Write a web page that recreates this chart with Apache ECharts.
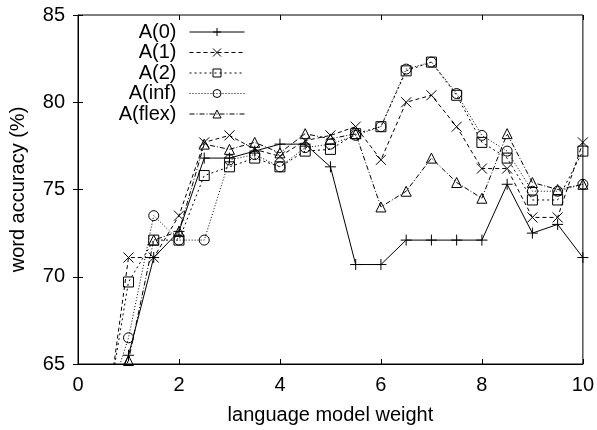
<!DOCTYPE html>
<html>
<head>
<meta charset="utf-8">
<script src="https://cdn.jsdelivr.net/npm/echarts@6/dist/echarts.min.js"></script>
<style>
  html, body { margin: 0; padding: 0; background: #fff; }
  #chart { width: 597px; height: 430px; }
</style>
</head>
<body>
<div id="chart"></div>
<script>
// 语言模型权重
const weights = [0.5, 1, 1.5, 2, 2.5, 3, 3.5, 4, 4.5, 5, 5.5, 6, 6.5, 7, 7.5, 8, 8.5, 9, 9.5, 10]

const a0 = [62, 65.5, 71.1, 72.6, 76.8, 76.8, 77.2, 77.6, 77.6, 76.3, 70.7, 70.7, 72.1, 72.1, 72.1, 72.1, 75.3, 72.5, 73.0, 71.1]
const a1 = [60.5, 71.1, 71.1, 73.5, 77.7, 78.1, 77.3, 76.9, 77.8, 78.1, 78.6, 76.7, 80.0, 80.4, 78.6, 76.2, 76.2, 73.4, 73.4, 77.7]
const a2 = [61, 69.7, 72.1, 72.1, 75.8, 76.3, 76.8, 76.3, 77.2, 77.3, 78.2, 78.6, 81.8, 82.3, 80.4, 77.7, 76.8, 74.4, 74.4, 77.2]
const aInf = [62, 66.5, 73.5, 72.1, 72.1, 76.7, 77.0, 76.3, 77.4, 77.6, 78.1, 78.6, 81.9, 82.3, 80.5, 78.1, 77.2, 74.9, 74.9, 75.3]
const aFlex = [62.5, 65.2, 72.1, 72.6, 77.6, 77.3, 77.7, 77.1, 78.2, 77.9, 78.2, 74.0, 74.9, 76.8, 75.4, 74.5, 78.2, 75.4, 75.0, 75.3]

const seriesNames = ['A(0)', 'A(1)', 'A(2)', 'A(inf)', 'A(flex)']
const seriesValues = [a0, a1, a2, aInf, aFlex]

const font = 'Liberation Sans, Arial, sans-serif'
const fontSize = 20
const symbols = [
  'path://M0,5L10,5M5,0L5,10',
  'path://M0,0L10,10M10,0L0,10',
  'rect',
  'circle',
  'triangle',
]
const symbolSizes = [11, 10, 10, 10, 10]
const dashes = ['solid', [4, 3], [2, 3], [1, 2], [5, 2, 1, 2]]

const series = seriesNames.map((name, i) => ({
  name,
  type: 'line',
  data: weights.map((w, j) => [w, seriesValues[i][j]]),
  symbol: symbols[i],
  symbolSize: symbolSizes[i],
  showAllSymbol: true,
  clip: true,
  lineStyle: { color: '#000', width: 1, type: dashes[i] },
  itemStyle: { color: 'none', borderColor: '#000', borderWidth: 1 },
  emphasis: { disabled: true },
  animation: false,
}))

// 图例：文字在左，图标在右
const legends = seriesNames.map((name, i) => ({
  data: [name],
  orient: 'vertical',
  align: 'right',
  right: 597 - 245,
  top: 22 + i * 20.5,
  itemWidth: 55,
  itemHeight: 10,
  itemGap: 0,
  padding: 0,
  selectedMode: false,
  lineStyle: { width: 1 },
  itemStyle: { borderWidth: 1 },
  textStyle: { fontFamily: font, fontSize, lineHeight: 20, color: '#000', padding: [0, 8, 0, 0] },
}))

const tickStyle = { show: true, inside: true, length: 5, lineStyle: { color: '#000', width: 1 } }

const option = {
  animation: false,
  grid: { left: 77, right: 12, top: 15, bottom: 65, show: true, borderColor: '#000', borderWidth: 1 },
  legend: legends,
  xAxis: [
    {
      type: 'value',
      min: 0,
      max: 10,
      interval: 2,
      name: 'language model weight',
      nameLocation: 'middle',
      nameGap: 41,
      nameTextStyle: { fontFamily: font, fontSize, color: '#000' },
      axisLine: { show: true, lineStyle: { color: '#000' } },
      axisTick: tickStyle,
      axisLabel: { fontFamily: font, fontSize, color: '#000', margin: 11 },
      splitLine: { show: false },
    },
    {
      type: 'value',
      position: 'top',
      min: 0,
      max: 10,
      interval: 2,
      axisLine: { show: false },
      axisTick: tickStyle,
      axisLabel: { show: false },
      splitLine: { show: false },
    },
  ],
  yAxis: [
    {
      type: 'value',
      min: 65,
      max: 85,
      interval: 5,
      name: 'word accuracy (%)',
      nameLocation: 'middle',
      nameGap: 50,
      nameTextStyle: { fontFamily: font, fontSize, color: '#000' },
      axisLine: { show: true, lineStyle: { color: '#000' } },
      axisTick: tickStyle,
      axisLabel: { fontFamily: font, fontSize, color: '#000', margin: 13 },
      splitLine: { show: false },
    },
    {
      type: 'value',
      position: 'right',
      min: 65,
      max: 85,
      interval: 5,
      axisLine: { show: false },
      axisTick: tickStyle,
      axisLabel: { show: false },
      splitLine: { show: false },
    },
  ],
  series,
}

const chart = echarts.init(document.getElementById('chart'), null, { renderer: 'canvas' })
chart.setOption(option)
</script>
</body>
</html>
